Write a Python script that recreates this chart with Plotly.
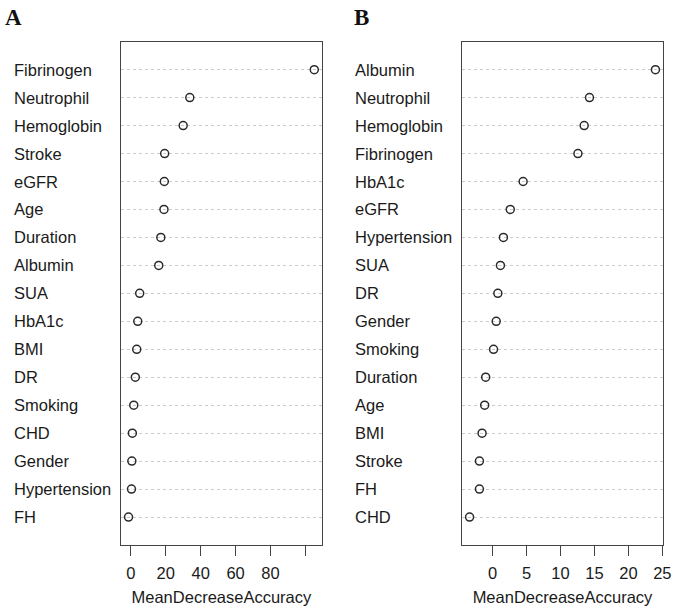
import plotly.graph_objects as go

# Panel A data (top to bottom)
labels_a = ["Fibrinogen", "Neutrophil", "Hemoglobin", "Stroke", "eGFR", "Age", "Duration",
            "Albumin", "SUA", "HbA1c", "BMI", "DR", "Smoking", "CHD", "Gender",
            "Hypertension", "FH"]
values_a = [105.1, 33.8, 30.0, 19.4, 19.2, 19.0, 17.2, 16.0, 5.1, 4.0, 3.4, 2.6, 1.7,
            0.9, 0.6, 0.4, -1.3]
ticks_a = [0, 20, 40, 60, 80, 100]
ticktext_a = ["0", "20", "40", "60", "80", ""]

# Panel B data (top to bottom)
labels_b = ["Albumin", "Neutrophil", "Hemoglobin", "Fibrinogen", "HbA1c", "eGFR",
            "Hypertension", "SUA", "DR", "Gender", "Smoking", "Duration", "Age", "BMI",
            "Stroke", "FH", "CHD"]
values_b = [23.98, 14.27, 13.49, 12.57, 4.5, 2.61, 1.6, 1.16, 0.78, 0.54, 0.15, -1.01,
            -1.16, -1.54, -1.93, -1.93, -3.38]
ticks_b = [0, 5, 10, 15, 20, 25]
ticktext_b = ["0", "5", "10", "15", "20", "25"]

W, H = 685, 609
FONT = "Liberation Sans, Arial, sans-serif"
TXT = "#1a1a1a"
LINE = "#444444"

def px(x):
    return x / W

def py(y):
    return 1 - y / H

def xlim(vals):
    lo, hi = min(vals), max(vals)
    d = (hi - lo) * 0.04
    return [lo - d, hi + d]

fig = go.Figure()
pos_a = [len(labels_a) - i for i in range(len(labels_a))]
pos_b = [len(labels_b) - i for i in range(len(labels_b))]

mk = dict(symbol="circle-open", size=8, color="#2a2a2a", line=dict(width=1.5))
fig.add_trace(go.Scatter(x=values_a, y=pos_a, mode="markers", xaxis="x", yaxis="y",
                         marker=mk, showlegend=False, hoverinfo="skip"))
fig.add_trace(go.Scatter(x=values_b, y=pos_b, mode="markers", xaxis="x2", yaxis="y2",
                         marker=mk, showlegend=False, hoverinfo="skip"))

ydom = [py(545), py(41.7)]
common_x = dict(showline=True, mirror=True, linecolor=LINE, linewidth=1.3,
                ticks="outside", ticklen=10, tickwidth=1.3, tickcolor=LINE,
                showgrid=False, zeroline=False, ticklabelstandoff=3,
                tickfont=dict(family=FONT, size=16.5, color=TXT),
                title=dict(text="MeanDecreaseAccuracy",
                           font=dict(family=FONT, size=16.5, color=TXT), standoff=10))
common_y = dict(range=[0, 18], domain=ydom, showline=True, mirror=True, linecolor=LINE,
                linewidth=1.3, showticklabels=False, ticks="", zeroline=False,
                tickvals=list(range(1, 18)), showgrid=True, gridcolor="#cccccc",
                griddash="dot", gridwidth=1)

fig.update_layout(
    width=W, height=H, margin=dict(l=0, r=0, t=0, b=0),
    paper_bgcolor="white", plot_bgcolor="white",
    xaxis=dict(domain=[px(122.7), px(326)], range=xlim(values_a), anchor="y",
               tickvals=ticks_a, ticktext=ticktext_a, **common_x),
    yaxis=dict(anchor="x", **common_y),
    xaxis2=dict(domain=[px(468.3), px(671.7)], range=xlim(values_b), anchor="y2",
                tickvals=ticks_b, ticktext=ticktext_b, **common_x),
    yaxis2=dict(anchor="x2", **common_y),
)

for lab, p in zip(labels_a, pos_a):
    fig.add_annotation(text=lab, x=px(12), xref="paper", y=p, yref="y", xanchor="left",
                       yanchor="middle", showarrow=False,
                       font=dict(family=FONT, size=16.5, color=TXT))
for lab, p in zip(labels_b, pos_b):
    fig.add_annotation(text=lab, x=px(357.5), xref="paper", y=p, yref="y2", xanchor="left",
                       yanchor="middle", showarrow=False,
                       font=dict(family=FONT, size=16.5, color=TXT))

for letter, xp in [("A", 3), ("B", 357)]:
    fig.add_annotation(text="<b>" + letter + "</b>", x=px(xp), xref="paper",
                       y=py(17.5), yref="paper", xanchor="left", yanchor="middle",
                       showarrow=False,
                       font=dict(family="Liberation Serif, Times New Roman, serif",
                                 size=23, color="#111111"))

fig.write_html("out.html",
               config={"displayModeBar": False},
               post_script="document.body.style.margin='0px';"
                           "document.body.style.overflow='hidden';")
